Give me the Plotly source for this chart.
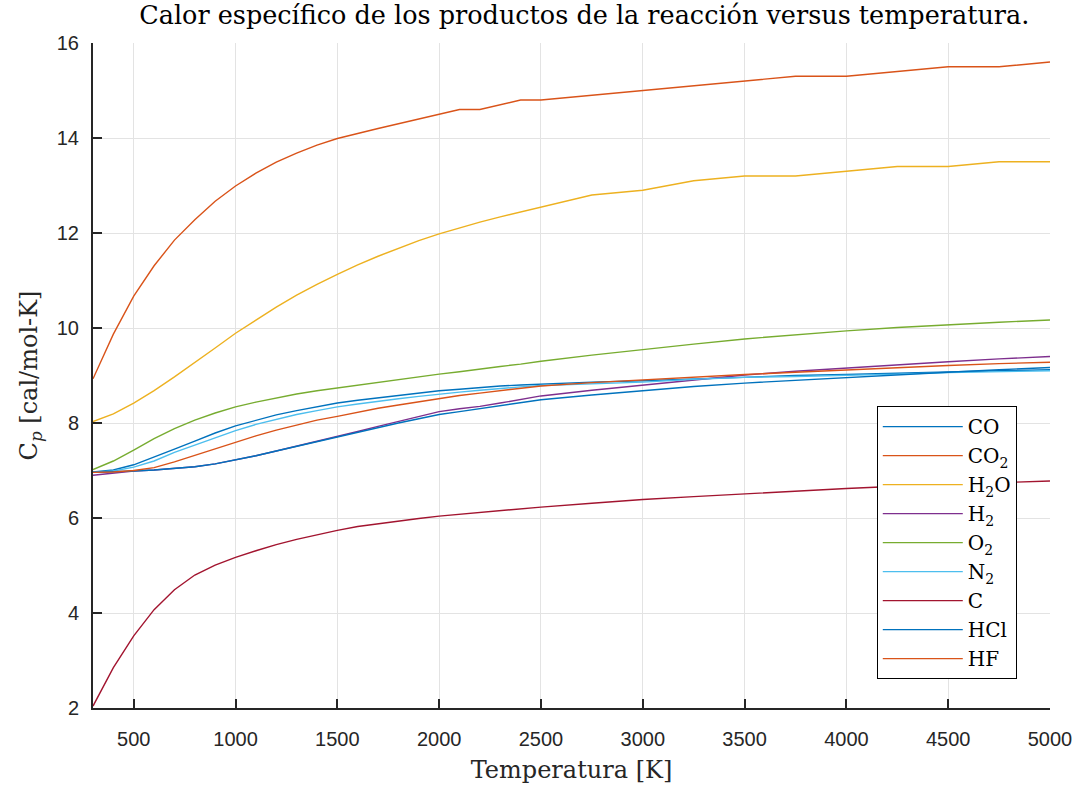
import plotly.graph_objects as go

# Temperature grid [K]
temperatura = [300, 400, 500, 600, 700, 800, 900, 1000, 1100, 1200, 1300, 1400,
               1500, 1600, 1700, 1800, 1900, 2000, 2100, 2200, 2300, 2400, 2500,
               2750, 3000, 3250, 3500, 3750, 4000, 4250, 4500, 4750, 5000]

# Specific heat of each product [cal/mol-K]
cp_CO = [6.97, 7.01, 7.12, 7.28, 7.45, 7.62, 7.79, 7.94, 8.06, 8.17, 8.26, 8.34,
         8.42, 8.48, 8.53, 8.58, 8.63, 8.68, 8.71, 8.75, 8.78, 8.80, 8.82,
         8.86, 8.89, 8.93, 8.97, 9.00, 9.02, 9.05, 9.07, 9.10, 9.12]
cp_CO2 = [8.93, 9.87, 10.67, 11.31, 11.85, 12.28, 12.67, 12.99, 13.26, 13.49, 13.68, 13.85,
          13.99, 14.10, 14.20, 14.30, 14.40, 14.50, 14.60, 14.60, 14.70, 14.80, 14.80,
          14.90, 15.00, 15.10, 15.20, 15.30, 15.30, 15.40, 15.50, 15.50, 15.60]
cp_H2O = [8.03, 8.19, 8.42, 8.68, 8.97, 9.27, 9.58, 9.89, 10.17, 10.44, 10.69, 10.92,
          11.13, 11.33, 11.51, 11.68, 11.84, 11.98, 12.11, 12.23, 12.34, 12.44, 12.54,
          12.80, 12.90, 13.10, 13.20, 13.20, 13.30, 13.40, 13.40, 13.50, 13.50]
cp_H2 = [6.90, 6.95, 6.99, 7.01, 7.04, 7.08, 7.14, 7.22, 7.31, 7.41, 7.51, 7.61,
         7.71, 7.82, 7.93, 8.03, 8.14, 8.24, 8.30, 8.35, 8.42, 8.50, 8.57,
         8.69, 8.80, 8.91, 9.01, 9.09, 9.16, 9.23, 9.29, 9.35, 9.40]
cp_O2 = [7.02, 7.20, 7.43, 7.67, 7.88, 8.06, 8.21, 8.34, 8.44, 8.53, 8.61, 8.68,
         8.74, 8.80, 8.86, 8.92, 8.97, 9.03, 9.08, 9.14, 9.19, 9.24, 9.30,
         9.43, 9.55, 9.66, 9.77, 9.86, 9.94, 10.01, 10.07, 10.12, 10.17]
cp_N2 = [6.96, 6.99, 7.07, 7.20, 7.38, 7.53, 7.69, 7.84, 7.97, 8.08, 8.18, 8.26,
         8.34, 8.40, 8.46, 8.51, 8.56, 8.61, 8.65, 8.69, 8.73, 8.76, 8.79,
         8.83, 8.86, 8.92, 8.96, 8.98, 9.00, 9.03, 9.06, 9.08, 9.10]
cp_C = [2.04, 2.85, 3.52, 4.07, 4.49, 4.80, 5.01, 5.17, 5.31, 5.44, 5.55, 5.65,
        5.74, 5.82, 5.88, 5.94, 5.99, 6.04, 6.08, 6.12, 6.16, 6.20, 6.23,
        6.31, 6.39, 6.45, 6.51, 6.57, 6.62, 6.67, 6.71, 6.75, 6.78]
cp_HCl = [6.96, 6.97, 6.99, 7.01, 7.04, 7.08, 7.14, 7.22, 7.31, 7.41, 7.51, 7.61,
          7.70, 7.80, 7.90, 8.00, 8.09, 8.18, 8.24, 8.30, 8.36, 8.43, 8.49,
          8.59, 8.68, 8.77, 8.84, 8.90, 8.96, 9.02, 9.07, 9.12, 9.17]
cp_HF = [6.96, 6.97, 7.00, 7.06, 7.18, 7.32, 7.46, 7.60, 7.73, 7.85, 7.96, 8.06,
         8.14, 8.23, 8.31, 8.38, 8.45, 8.52, 8.58, 8.63, 8.68, 8.73, 8.78,
         8.85, 8.91, 8.97, 9.02, 9.07, 9.12, 9.17, 9.21, 9.25, 9.28]

especies = ["CO", "CO<sub>2</sub>", "H<sub>2</sub>O", "H<sub>2</sub>", "O<sub>2</sub>",
            "N<sub>2</sub>", "C", "HCl", "HF"]
series = [cp_CO, cp_CO2, cp_H2O, cp_H2, cp_O2, cp_N2, cp_C, cp_HCl, cp_HF]
colores = ["#0072BD", "#D95319", "#EDB120", "#7E2F8E", "#77AC30",
           "#4DBEEE", "#A2142F", "#0072BD", "#D95319"]

x_ticks = [500, 1000, 1500, 2000, 2500, 3000, 3500, 4000, 4500, 5000]
y_ticks = [2, 4, 6, 8, 10, 12, 14, 16]

serif = "DejaVu Serif, Liberation Serif, serif"
sans = "Liberation Sans, Arial, sans-serif"
eje = "#262626"

fig = go.Figure()
for nombre, cp, color in zip(especies, series, colores):
    fig.add_trace(go.Scatter(x=temperatura, y=cp, mode="lines", name=nombre,
                             line=dict(color=color, width=1.4)))

fig.update_layout(
    width=1086, height=791,
    margin=dict(l=93, r=36, t=43, b=81),
    paper_bgcolor="white", plot_bgcolor="white",
    title=dict(text="Calor específico de los productos de la reacción versus temperatura.",
               x=0.538, xanchor="center", y=0.981, yanchor="middle",
               font=dict(family=serif, size=25.5, color="black")),
    legend=dict(x=0.819, y=0.454, xanchor="left", yanchor="top",
                bordercolor="black", borderwidth=1, bgcolor="white",
                font=dict(family=serif, size=20, color="black"),
                tracegroupgap=0, itemwidth=80),
    showlegend=True,
)

fig.update_xaxes(range=[300, 5000], tickvals=x_ticks,
                 ticks="inside", ticklen=9, tickwidth=2, tickcolor=eje,
                 showline=True, linewidth=2, linecolor=eje, mirror=False,
                 showgrid=True, gridcolor="#e3e3e3", gridwidth=1, zeroline=False,
                 tickfont=dict(family=sans, size=20, color=eje),
                 ticklabelstandoff=12,
                 title=dict(text="Temperatura [K]", standoff=12,
                            font=dict(family=serif, size=24, color=eje)))
fig.update_yaxes(range=[2, 16], tickvals=y_ticks,
                 ticks="inside", ticklen=9, tickwidth=2, tickcolor=eje,
                 showline=True, linewidth=2, linecolor=eje, mirror=False,
                 showgrid=True, gridcolor="#e3e3e3", gridwidth=1, zeroline=False,
                 tickfont=dict(family=sans, size=20, color=eje),
                 ticklabelstandoff=8,
                 title=dict(text="C<sub><i>p</i></sub> [cal/mol-K]", standoff=12,
                            font=dict(family=serif, size=24, color=eje)))

fig.write_html("out.html")
